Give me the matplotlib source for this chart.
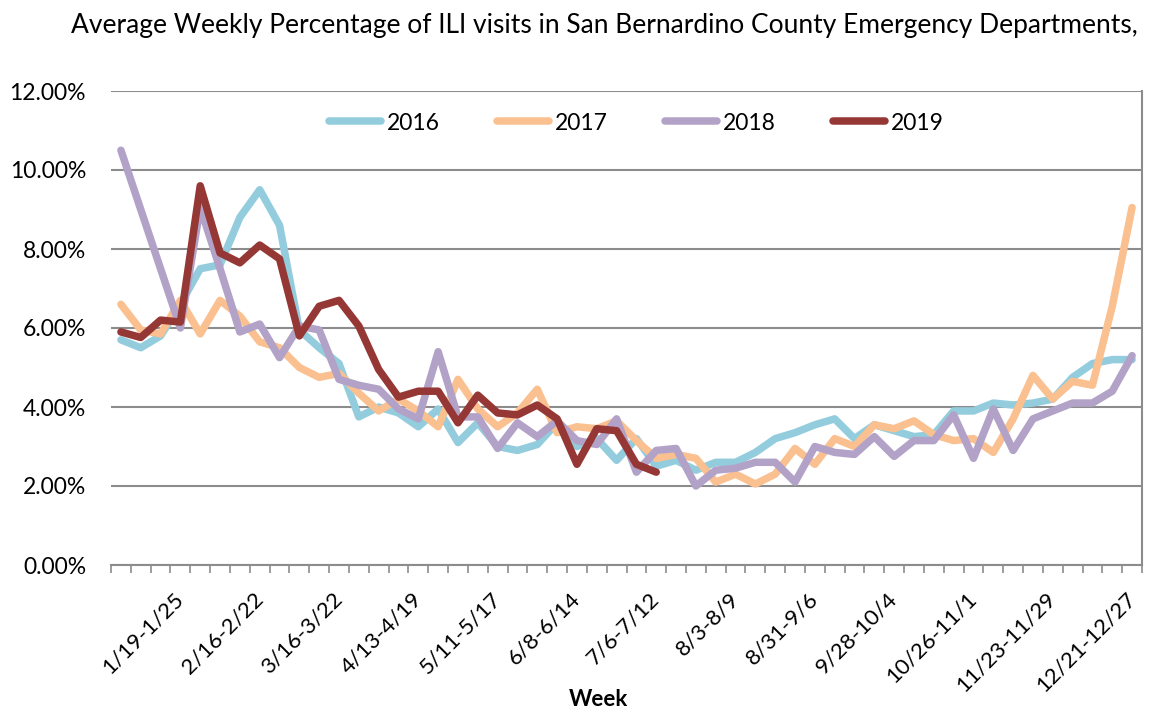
import matplotlib
matplotlib.use("Agg")
import matplotlib.pyplot as plt
import numpy as np
from matplotlib.ticker import FuncFormatter

weeks_n = 52
tick_positions = [3, 7, 11, 15, 19, 23, 27, 31, 35, 39, 43, 47, 51]
tick_labels = ["1/19-1/25", "2/16-2/22", "3/16-3/22", "4/13-4/19", "5/11-5/17",
               "6/8-6/14", "7/6-7/12", "8/3-8/9", "8/31-9/6", "9/28-10/4",
               "10/26-11/1", "11/23-11/29", "12/21-12/27"]

ili_2016 = [5.7, 5.5, 5.8, 6.6, 7.5, 7.6, 8.8, 9.5, 8.6, 5.95, 5.5, 5.1, 3.75, 4.0,
            3.85, 3.5, 3.95, 3.1, 3.6, 3.0, 2.9, 3.05, 3.6, 3.0, 3.2, 2.65, 3.2, 2.5,
            2.65, 2.4, 2.6, 2.6, 2.85, 3.2, 3.35, 3.55, 3.7, 3.2, 3.55, 3.4, 3.25, 3.3,
            3.9, 3.9, 4.1, 4.05, 4.1, 4.2, 4.75, 5.1, 5.2, 5.2]
ili_2017 = [6.6, 5.95, 5.85, 6.7, 5.85, 6.7, 6.3, 5.65, 5.5, 5.0, 4.75, 4.85, 4.35, 3.9,
            4.2, 3.9, 3.5, 4.7, 3.95, 3.5, 3.85, 4.45, 3.35, 3.5, 3.45, 3.65, 3.15, 2.7,
            2.8, 2.7, 2.1, 2.3, 2.05, 2.3, 2.95, 2.55, 3.2, 3.0, 3.55, 3.45, 3.65, 3.3,
            3.15, 3.2, 2.85, 3.7, 4.8, 4.2, 4.65, 4.55, 6.55, 9.05]
ili_2018 = [10.5, 9.0, 7.5, 6.0, 9.05, 7.5, 5.9, 6.1, 5.25, 6.05, 5.95, 4.7, 4.55, 4.45,
            3.95, 3.7, 5.4, 3.75, 3.75, 2.95, 3.6, 3.25, 3.65, 3.15, 3.05, 3.7, 2.35, 2.9,
            2.95, 2.0, 2.4, 2.45, 2.6, 2.6, 2.1, 3.0, 2.85, 2.8, 3.25, 2.75, 3.15, 3.15,
            3.8, 2.7, 3.95, 2.9, 3.7, 3.9, 4.1, 4.1, 4.4, 5.3]
ili_2019 = [5.9, 5.76, 6.2, 6.15, 9.6, 7.9, 7.65, 8.1, 7.75, 5.8, 6.55, 6.7, 6.05, 4.95,
            4.25, 4.4, 4.4, 3.6, 4.3, 3.85, 3.8, 4.05, 3.7, 2.55, 3.45, 3.4, 2.55, 2.35]

series = [("2016", ili_2016, "#93CDDD"), ("2017", ili_2017, "#FAC090"),
          ("2018", ili_2018, "#B3A2C7"), ("2019", ili_2019, "#953735")]

plt.rcParams['font.family'] = ['Lato', 'DejaVu Sans']

fig = plt.figure(figsize=(11.51, 7.11), dpi=100)
W, H = 1151, 711
ax = fig.add_axes([111 / W, 1 - 565 / H, (1142 - 111) / W, (565 - 91) / H])

for name, vals, col in series:
    x = np.arange(len(vals))
    ax.plot(x, vals, color=col, lw=5.4, solid_capstyle='round',
            solid_joinstyle='round', label=name)

ax.set_xlim(-0.5, weeks_n - 0.5)
ax.set_ylim(0, 12)
ax.set_yticks(np.arange(0, 12.1, 2))
ax.yaxis.set_major_formatter(FuncFormatter(lambda v, p: f"{v:.2f}%"))
ax.grid(axis='y', color='#8C8C8C', lw=1.5)
ax.set_axisbelow(True)

for s in ['top', 'left']:
    ax.spines[s].set_visible(False)
ax.spines['bottom'].set_color('#8C8C8C')
ax.spines['bottom'].set_linewidth(1.5)
ax.spines['right'].set_color('#8C8C8C')
ax.spines['right'].set_linewidth(1.5)

ax.tick_params(axis='y', length=0, pad=18, labelsize=16.5)
ax.set_xticks(tick_positions)
ax.set_xticklabels(tick_labels, rotation=45, ha='right', va='center',
                   rotation_mode='anchor', fontsize=16)
ax.tick_params(axis='x', which='major', length=0, pad=22)
ax.set_xticks(np.arange(-0.5, weeks_n, 1), minor=True)
ax.tick_params(axis='x', which='minor', length=6, width=1.2, color='#8C8C8C',
               direction='out')

fig.text(604 / W, 1 - 25 / H,
         "Average Weekly Percentage of ILI visits in San Bernardino County Emergency Departments,",
         ha='center', va='center', fontsize=19)
fig.text(598 / W, 1 - 699 / H, "Week", ha='center', va='center',
         fontsize=16, fontweight='bold')

ax.legend(loc='center', bbox_to_anchor=(636 / W, 1 - 123 / H),
          bbox_transform=fig.transFigure, ncol=4, frameon=False,
          fontsize=16.5, handlelength=2.27, columnspacing=2.5, handletextpad=0.25)

fig.savefig("out.png", dpi=100)
